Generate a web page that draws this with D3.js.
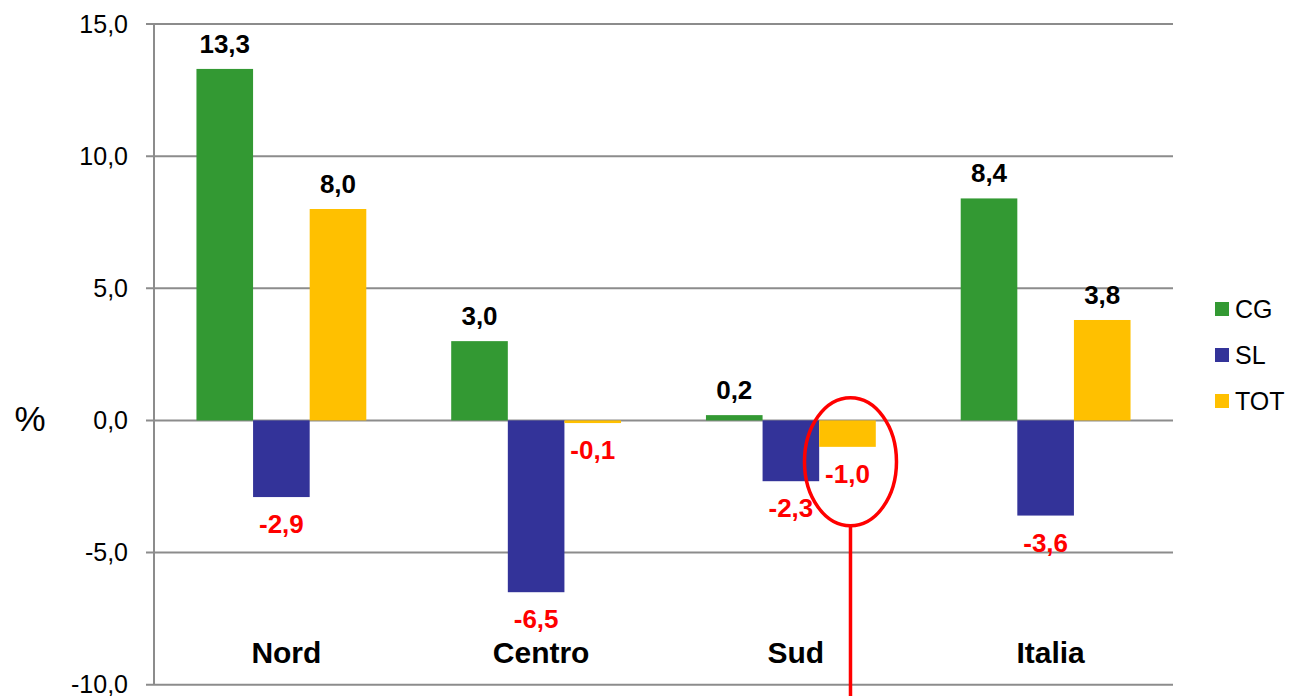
<!DOCTYPE html>
<html>
<head>
<meta charset="utf-8">
<script src="https://cdn.jsdelivr.net/npm/d3@7"></script>
<style>
  body { margin: 0; background: #fff; }
  text { font-family: "Liberation Sans", Arial, sans-serif; }
</style>
</head>
<body>
<script>
let width = 1291;
let height = 696;

// data
let categories = ["Nord", "Centro", "Sud", "Italia"];
let seriesNames = ["CG", "SL", "TOT"];
let cgValues = [13.3, 3.0, 0.2, 8.4];
let slValues = [-2.9, -6.5, -2.3, -3.6];
let totValues = [8.0, -0.1, -1.0, 3.8];
let yTicks = [-10, -5, 0, 5, 10, 15];

let colors = d3.scaleOrdinal()
  .domain(seriesNames)
  .range(["#339933", "#333399", "#ffc000"]);

let rows = categories.map(function(c, i) {
  return { cat: c, CG: cgValues[i], SL: slValues[i], TOT: totValues[i] };
});

let svg = d3.select("body")
  .append("svg")
  .attr("width", width)
  .attr("height", height);

let plotLeft = 154, plotRight = 1173, plotTop = 24, plotBottom = 684.7;

let y = d3.scaleLinear().domain([-10, 15]).range([plotBottom, plotTop]);
let x0 = d3.scaleBand().domain(categories).range([plotLeft, plotRight]);
let step = x0.bandwidth();
let x1 = d3.scaleBand().domain(seriesNames).range([step / 6, step * 5 / 6]);

// comma decimals, plain hyphen for minus
let fmt = function(v) {
  return d3.format(".1f")(v).replace(".", ",").replace("\u2212", "-");
};

// grid lines
svg.append("g")
  .selectAll("line")
  .data(yTicks)
  .enter()
  .append("line")
  .attr("x1", plotLeft - 8)
  .attr("x2", plotRight)
  .attr("y1", d => y(d))
  .attr("y2", d => y(d))
  .attr("stroke", "#8c8c8c")
  .attr("stroke-width", 2);

// y axis line
svg.append("line")
  .attr("x1", plotLeft).attr("x2", plotLeft)
  .attr("y1", y(15)).attr("y2", y(-10))
  .attr("stroke", "#8c8c8c")
  .attr("stroke-width", 2);

// tick labels
svg.append("g")
  .selectAll("text")
  .data(yTicks)
  .enter()
  .append("text")
  .attr("x", 128)
  .attr("y", d => y(d) + 8.5)
  .attr("text-anchor", "end")
  .attr("font-size", 25)
  .attr("fill", "#000")
  .text(d => fmt(d));

svg.append("text")
  .attr("x", 30)
  .attr("y", 431)
  .attr("text-anchor", "middle")
  .attr("font-size", 35)
  .text("%");

// bars
let groups = svg.append("g")
  .selectAll("g")
  .data(rows)
  .enter()
  .append("g")
  .attr("transform", d => "translate(" + x0(d.cat) + ",0)");

let bars = groups.selectAll("rect")
  .data(d => seriesNames.map(s => ({ key: s, value: d[s] })))
  .enter();

bars.append("rect")
  .attr("x", d => x1(d.key))
  .attr("width", x1.bandwidth())
  .attr("y", d => y(Math.max(0, d.value)))
  .attr("height", d => Math.abs(y(d.value) - y(0)))
  .attr("fill", d => colors(d.key));

bars.append("text")
  .attr("x", d => x1(d.key) + x1.bandwidth() / 2)
  .attr("y", d => d.value >= 0 ? y(d.value) - 16 : y(d.value) + 36)
  .attr("text-anchor", "middle")
  .attr("font-size", 26)
  .attr("font-weight", "bold")
  .attr("fill", d => d.value >= 0 ? "#000" : "#ff0000")
  .text(d => fmt(d.value));

// category labels
svg.append("g")
  .selectAll("text")
  .data(categories)
  .enter()
  .append("text")
  .attr("x", d => x0(d) + step / 2 + 5)
  .attr("y", 663)
  .attr("text-anchor", "middle")
  .attr("font-size", 30)
  .attr("font-weight", "bold")
  .text(d => d);

// legend
let legend = svg.append("g")
  .selectAll("g")
  .data(seriesNames)
  .enter()
  .append("g")
  .attr("transform", (d, i) => "translate(1215," + (302 + i * 46) + ")");

legend.append("rect")
  .attr("width", 14)
  .attr("height", 14)
  .attr("fill", d => colors(d));

legend.append("text")
  .attr("x", 20)
  .attr("y", 16)
  .attr("font-size", 25)
  .text(d => d);

// annotation on Sud TOT
let cx = x0("Sud") + x1("TOT") + x1.bandwidth() / 2 + 3;
let cy = y(-1.0) + 15;
svg.append("ellipse")
  .attr("cx", cx)
  .attr("cy", cy)
  .attr("rx", 46)
  .attr("ry", 64)
  .attr("fill", "none")
  .attr("stroke", "#ff0000")
  .attr("stroke-width", 3.5);

svg.append("line")
  .attr("x1", cx).attr("x2", cx)
  .attr("y1", cy + 64).attr("y2", height)
  .attr("stroke", "#ff0000")
  .attr("stroke-width", 3.5);
</script>
</body>
</html>
